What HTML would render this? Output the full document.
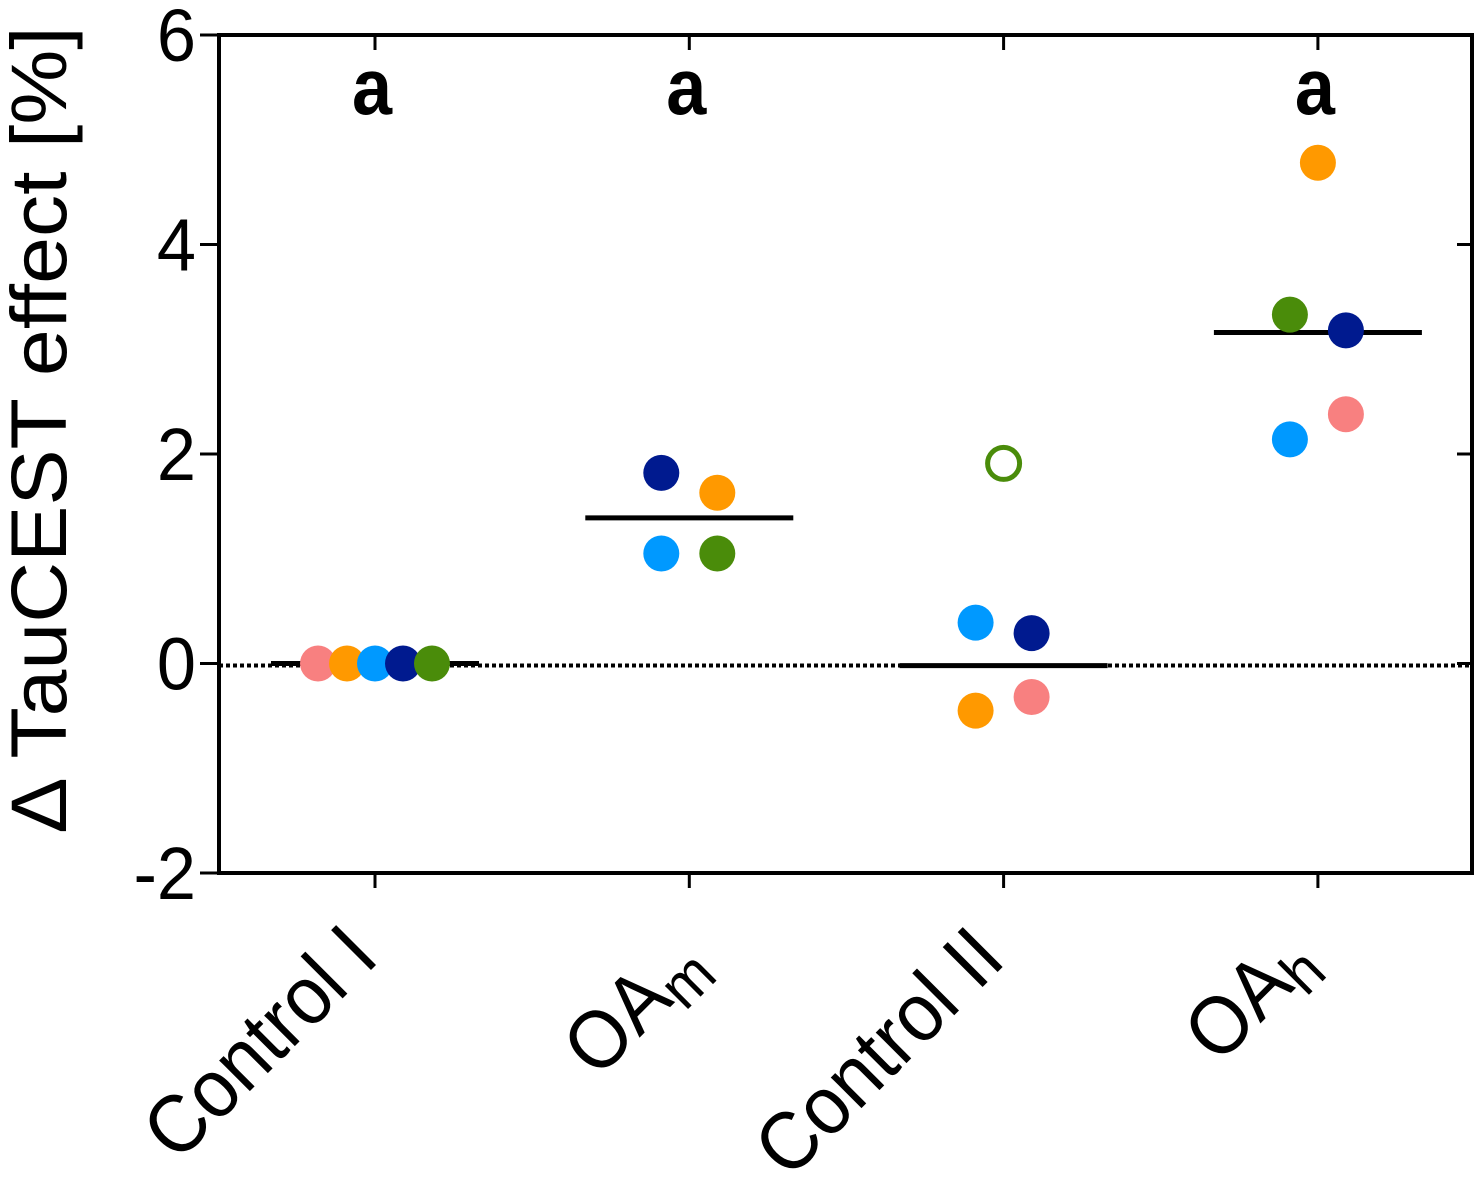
<!DOCTYPE html>
<html><head><meta charset="utf-8"><style>
html,body{margin:0;padding:0;background:#fff;}
svg{display:block;font-family:"Liberation Sans",sans-serif;}
</style></head><body>
<svg id="chart" width="1476" height="1182" viewBox="0 0 1476 1182" xmlns="http://www.w3.org/2000/svg"></svg>
<script>
const categories = ["Control I", "OAm", "Control II", "OAh"];
const yTicks = [-2, 0, 2, 4, 6];
const yTickLabels = ["-2", "0", "2", "4", "6"];
const seriesColors = ["#f88080", "#ff9900", "#0099ff", "#001a8f", "#4a8c0a"];
const seriesNames = ["pink", "orange", "light-blue", "navy", "green"];
const pinkValues   = [0.0, null, -0.32, 2.38];
const orangeValues = [0.0, 1.63, -0.45, 4.78];
const blueValues   = [0.0, 1.05, 0.39, 2.14];
const navyValues   = [0.0, 1.82, 0.29, 3.18];
const greenValues  = [0.0, 1.05, 1.91, 3.33];
const greenOpen    = [false, false, true, false];
const meanValues   = [0.0, 1.39, -0.02, 3.16];
const letters      = ["a", "a", "", "a"];

const svg = document.getElementById('chart');
const NS = 'http://www.w3.org/2000/svg';
const L = 219, R = 1472, T = 35, B = 873;
const yMin = -2, yMax = 6;
function yScale(v){ return B - (v - yMin) / (yMax - yMin) * (B - T); }
const catStep = 314.3, cat0 = 375;
function xScale(i){ return cat0 + i * catStep; }
function mk(tag, attrs){ const e = document.createElementNS(NS, tag); for (const k in attrs) e.setAttribute(k, attrs[k]); svg.appendChild(e); return e; }

let zl = mk('line', {x1: L, x2: R, y1: yScale(0)+2, y2: yScale(0)+2, stroke: '#000', 'stroke-width': 4, 'stroke-dasharray': '4,3'});



let fr = mk('rect', {x: L, y: T, width: R - L, height: B - T, fill: 'none', stroke: '#000', 'stroke-width': 4});



yTicks.forEach((v, i) => {
  const y = yScale(v);
  let t = mk('line', {x1: 200, x2: L, y1: y, y2: y, stroke: '#000', 'stroke-width': 3});
  
  
  let t2 = mk('line', {x1: R - 15, x2: R, y1: y, y2: y, stroke: '#000', 'stroke-width': 3});
  
  
  let lb = mk('text', {x: 0, y: 0, 'text-anchor': 'end', 'font-size': 74, transform: `translate(196 ${y + 26}) scale(0.95 1)`});
  lb.textContent = yTickLabels[i];
  
  
});

const labelAnchors = [[6, 960], [20, 968], [4, 962], [1, 965]];
categories.forEach((c, i) => {
  const x = xScale(i);
  let t = mk('line', {x1: x, x2: x, y1: B, y2: 888, stroke: '#000', 'stroke-width': 3});
  
  
  let t2 = mk('line', {x1: x, x2: x, y1: T, y2: 50, stroke: '#000', 'stroke-width': 3});
  
  
  const ax = x + labelAnchors[i][0], ay = labelAnchors[i][1];
  let lb = mk('text', {x: 0, y: 0, 'text-anchor': 'end', 'font-size': 82, transform: `translate(${ax} ${ay}) rotate(-45) scale(0.93 1)`});
  if (c === 'OAm' || c === 'OAh') {
    lb.innerHTML = 'OA<tspan font-size="62" dy="14">' + c.slice(2) + '</tspan>';
  } else lb.textContent = c;
  
  
  if (letters[i]) {
    let le = mk('text', {x: 0, y: 0, 'text-anchor': 'middle', 'font-size': 80, 'font-weight': 'bold', transform: `translate(${x - 3} 114) scale(0.9 1)`});
    le.textContent = letters[i];
    
    
  }
});

meanValues.forEach((m, i) => {
  const x = xScale(i);
  let ml = mk('line', {x1: x - 104, x2: x + 104, y1: yScale(m), y2: yScale(m), stroke: '#000', 'stroke-width': 5});
  
  
});

const series = [pinkValues, orangeValues, blueValues, navyValues, greenValues];
const offsets = [
  [-57, -28, 0, 28, 57],
  [0, 28, -28, -28, 28],
  [28, -28, -28, 28, 0],
  [28, 0, -28, 28, -28]
];
series.forEach((vals, s) => {
  vals.forEach((v, i) => {
    if (v === null) return;
    const cx = xScale(i) + offsets[i][s], cy = yScale(v);
    const open = s === 4 && greenOpen[i];
    let d = mk('circle', {cx, cy, r: open ? 16 : 18, fill: open ? '#fff' : seriesColors[s], stroke: open ? seriesColors[s] : 'none', 'stroke-width': 5});
    
    
  });
});

let yt = mk('text', {x: 0, y: 0, 'text-anchor': 'middle', 'font-size': 86, transform: 'translate(66 430) rotate(-90) scale(0.98 0.92)'});
yt.textContent = '\u0394 TauCEST effect [%]';


</script>
</body></html>
